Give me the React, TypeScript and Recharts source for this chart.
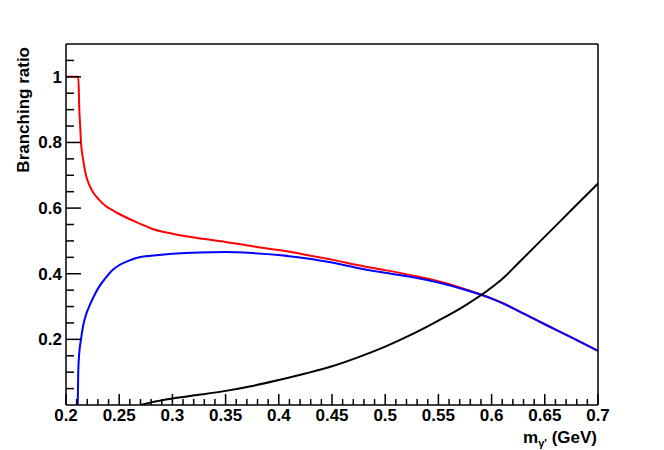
import React from "react";
import { LineChart, Line, XAxis, YAxis } from "recharts";

// axis labels (major ticks)
const xLabels = [0.2, 0.25, 0.3, 0.35, 0.4, 0.45, 0.5, 0.55, 0.6, 0.65, 0.7];
const yLabels = [0.2, 0.4, 0.6, 0.8, 1];

// red curve
const redX = [0.2, 0.2116, 0.2125, 0.2135, 0.2141, 0.216, 0.219, 0.222, 0.226, 0.231, 0.237, 0.244, 0.25, 0.26, 0.27, 0.28, 0.3, 0.325, 0.35, 0.375, 0.4, 0.425, 0.45, 0.475, 0.5, 0.525, 0.55, 0.575, 0.6, 0.611, 0.625, 0.65, 0.675, 0.7];
const redY = [1, 1, 0.9, 0.84, 0.8, 0.75, 0.697, 0.67, 0.645, 0.626, 0.607, 0.593, 0.582, 0.566, 0.552, 0.538, 0.522, 0.508, 0.497, 0.484, 0.472, 0.458, 0.443, 0.426, 0.411, 0.395, 0.377, 0.353, 0.325, 0.31, 0.287, 0.246, 0.206, 0.165];

// blue curve
const blueX = [0.211, 0.2115, 0.2125, 0.2141, 0.216, 0.219, 0.222, 0.226, 0.231, 0.237, 0.244, 0.25, 0.26, 0.27, 0.28, 0.3, 0.325, 0.35, 0.375, 0.4, 0.425, 0.45, 0.475, 0.5, 0.525, 0.55, 0.575, 0.6, 0.611, 0.625, 0.65, 0.675, 0.7];
const blueY = [0, 0.1, 0.16, 0.2, 0.24, 0.277, 0.302, 0.33, 0.36, 0.386, 0.412, 0.426, 0.441, 0.451, 0.455, 0.461, 0.465, 0.466, 0.463, 0.457, 0.447, 0.434, 0.417, 0.403, 0.39, 0.373, 0.351, 0.324, 0.309, 0.287, 0.246, 0.206, 0.165];

// black curve
const blackX = [0.27, 0.28, 0.3, 0.325, 0.35, 0.375, 0.4, 0.425, 0.45, 0.475, 0.5, 0.525, 0.55, 0.575, 0.6, 0.611, 0.625, 0.65, 0.675, 0.7];
const blackY = [0, 0.008, 0.02, 0.031, 0.043, 0.058, 0.076, 0.096, 0.118, 0.146, 0.178, 0.215, 0.257, 0.303, 0.358, 0.387, 0.432, 0.513, 0.594, 0.675];

const toPoints = (xs: number[], ys: number[]) => xs.map((x, i) => ({ x, y: ys[i] }));
const redData = toPoints(redX, redY);
const blueData = toPoints(blueX, blueY);
const blackData = toPoints(blackX, blackY);

const xTicks = Array.from({ length: 51 }, (_, i) => 0.2 + i * 0.01);
const yTicks = Array.from({ length: 21 }, (_, i) => 0.05 + i * 0.05);

const font = "'Liberation Sans', Arial, Helvetica, sans-serif";
const isMajor = (list: number[], v: number) => list.some((m) => Math.abs(m - v) < 1e-6);
const fmt = (v: number) => String(Number(v.toFixed(2)));

function XTick(props: any) {
  const { x, y, payload } = props;
  const v = payload.value;
  const major = isMajor(xLabels, v);
  return (
    <g>
      <line x1={x} y1={y} x2={x} y2={y - (major ? 11 : 6)} stroke="#000" strokeWidth={1.5} />
      {major && (
        <text x={x} y={y + 16} textAnchor="middle" fontFamily={font} fontWeight="bold" fontSize={17} fill="#000">
          {fmt(v)}
        </text>
      )}
    </g>
  );
}

function YTick(props: any) {
  const { x, y, payload } = props;
  const v = payload.value;
  const major = isMajor(yLabels, v);
  return (
    <g>
      <line x1={x} y1={y} x2={x + (major ? 15 : 8)} y2={y} stroke="#000" strokeWidth={1.5} />
      {major && (
        <text x={x - 4} y={y + 6} textAnchor="end" fontFamily={font} fontWeight="bold" fontSize={17} fill="#000">
          {fmt(v)}
        </text>
      )}
    </g>
  );
}

const axisLine = { stroke: "#000", strokeWidth: 1.5 };

export default function App() {
  return (
    <div style={{ position: "absolute", left: 0, top: 0, width: 664, height: 450, background: "#fff" }}>
      <LineChart width={664} height={450} margin={{ top: 43, right: 65, bottom: 44, left: 65 }}>
        <XAxis
          dataKey="x"
          type="number"
          domain={[0.2, 0.7]}
          ticks={xTicks}
          interval={0}
          height={1}
          tickSize={0}
          tickMargin={0}
          tickLine={false}
          tick={XTick}
          axisLine={axisLine}
          allowDataOverflow
        />
        <XAxis
          xAxisId="top"
          orientation="top"
          type="number"
          dataKey="x"
          domain={[0.2, 0.7]}
          height={1}
          tick={false}
          tickLine={false}
          axisLine={axisLine}
        />
        <YAxis
          type="number"
          domain={[0, 1.1]}
          ticks={yTicks}
          interval={0}
          width={1}
          tickSize={0}
          tickMargin={0}
          tickLine={false}
          tick={YTick}
          axisLine={axisLine}
          allowDataOverflow
        />
        <YAxis
          yAxisId="right"
          orientation="right"
          type="number"
          domain={[0, 1.1]}
          width={1}
          tick={false}
          tickLine={false}
          axisLine={axisLine}
        />
        <Line data={redData} dataKey="y" type="monotone" stroke="#ff0000" strokeWidth={2} dot={false} isAnimationActive={false} />
        <Line data={blueData} dataKey="y" type="monotone" stroke="#0000ff" strokeWidth={2} dot={false} isAnimationActive={false} />
        <Line data={blackData} dataKey="y" type="monotone" stroke="#000000" strokeWidth={2} dot={false} isAnimationActive={false} />
      </LineChart>
      <svg width={664} height={450} style={{ position: "absolute", left: 0, top: 0, pointerEvents: "none" }}>
        <text
          x={29}
          y={47}
          transform="rotate(-90 29 47)"
          textAnchor="end"
          fontFamily={font}
          fontWeight="bold"
          fontSize={17}
          fill="#000"
        >
          Branching ratio
        </text>
        <text x={597} y={443} textAnchor="end" fontFamily={font} fontWeight="bold" fontSize={17} fill="#000">
          m
          <tspan fontSize={11} dy={4}>γ'</tspan>
          <tspan dy={-4}> (GeV)</tspan>
        </text>
      </svg>
    </div>
  );
}
